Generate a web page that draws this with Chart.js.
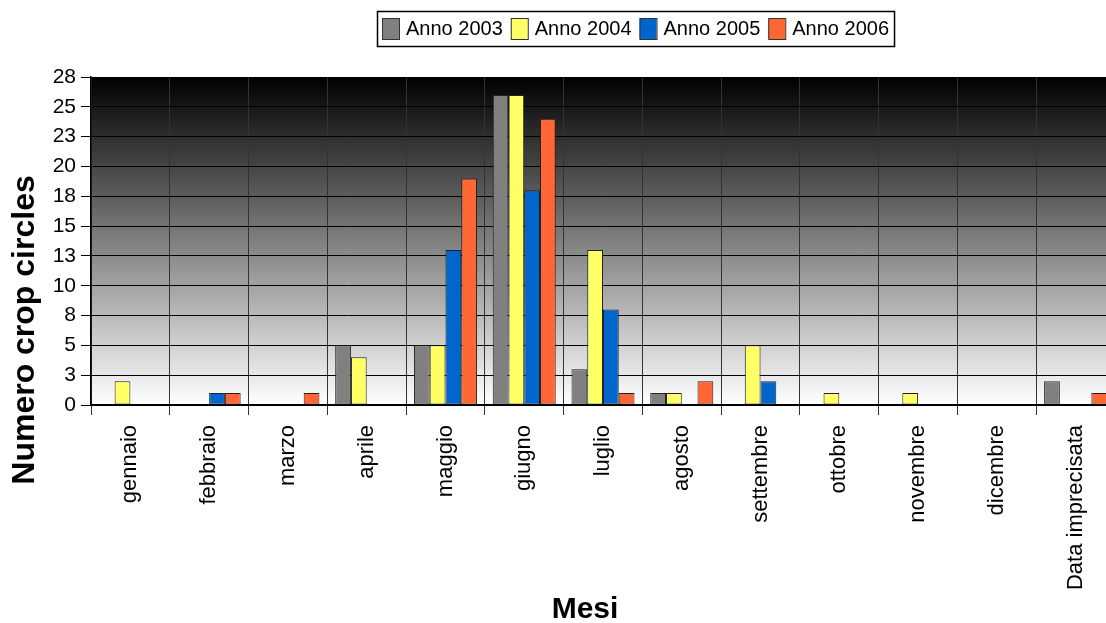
<!DOCTYPE html>
<html>
<head>
<meta charset="utf-8">
<title>Crop circles per mese</title>
<script src="https://cdn.jsdelivr.net/npm/chart.js@4/dist/chart.umd.min.js"></script>
<style>
  html, body { margin: 0; padding: 0; background: #fff; overflow: hidden; }
  #wrap { width: 1115px; height: 623px; }
</style>
</head>
<body>
<div id="wrap"><canvas id="barChart" width="1115" height="623"></canvas></div>
<script>
var mesi = ['gennaio', 'febbraio', 'marzo', 'aprile', 'maggio', 'giugno', 'luglio',
            'agosto', 'settembre', 'ottobre', 'novembre', 'dicembre', 'Data imprecisata'];
var anno2003 = [0, 0, 0, 5, 5, 26, 3, 1, 0, 0, 0, 0, 2];
var anno2004 = [2, 0, 0, 4, 5, 26, 13, 1, 5, 1, 1, 0, 0];
var anno2005 = [0, 1, 0, 0, 13, 18, 8, 0, 2, 0, 0, 0, 0];
var anno2006 = [0, 1, 1, 0, 19, 24, 1, 2, 0, 0, 0, 0, 1];
var serieNomi = ['Anno 2003', 'Anno 2004', 'Anno 2005', 'Anno 2006'];
var serieColori = ['#808080', '#FFFF66', '#0066CC', '#FF6633'];
var yTickLabels = ['0', '3', '5', '8', '10', '13', '15', '18', '20', '23', '25', '28'];

var FONT = "'Liberation Sans', Arial, sans-serif";

// sfondo sfumato dell'area del grafico, da nero (alto) a bianco (basso)
var sfondo = {
    id: 'sfondo',
    beforeDraw: function (chart) {
        var a = chart.chartArea;
        var ctx = chart.ctx;
        var g = ctx.createLinearGradient(0, a.top, 0, a.bottom);
        g.addColorStop(0, '#000000');
        g.addColorStop(1, '#ffffff');
        ctx.save();
        ctx.fillStyle = g;
        ctx.fillRect(a.left, a.top, a.right - a.left, a.bottom - a.top);
        ctx.restore();
    }
};

// legenda con cornice e titoli degli assi
var extra = {
    id: 'extra',
    afterDraw: function (chart) {
        var ctx = chart.ctx;
        ctx.save();

        // legenda
        ctx.font = '20px ' + FONT;
        var box = 17, gap = 7, sep = 8, pad = 5;
        var widths = serieNomi.map(function (n) { return ctx.measureText(n).width; });
        var total = pad * 2 - sep;
        widths.forEach(function (w) { total += box + gap + w + sep; });
        var cx = 636, top = 11, h = 35;
        var x = Math.round(cx - total / 2);
        ctx.strokeStyle = '#000';
        ctx.lineWidth = 1.5;
        ctx.strokeRect(x + 0.5, top + 0.5, total, h);
        var cur = x + pad;
        ctx.textBaseline = 'middle';
        ctx.textAlign = 'left';
        for (var i = 0; i < serieNomi.length; i++) {
            ctx.fillStyle = serieColori[i];
            ctx.fillRect(cur, top + 7, box, 21);
            ctx.lineWidth = 1;
            ctx.strokeStyle = '#333';
            ctx.strokeRect(cur + 0.5, top + 7.5, box, 21);
            ctx.fillStyle = '#000';
            ctx.fillText(serieNomi[i], cur + box + gap, top + h / 2 + 1);
            cur += box + gap + widths[i] + sep;
        }

        // titoli assi
        ctx.fillStyle = '#000';
        ctx.textAlign = 'center';
        ctx.font = 'bold 30px ' + FONT;
        ctx.fillText('Mesi', 585, 610);
        ctx.font = 'bold 32px ' + FONT;
        ctx.translate(25, 330);
        ctx.rotate(-Math.PI / 2);
        ctx.fillText('Numero crop circles', 0, 0);
        ctx.restore();
    }
};

var datasets = [anno2003, anno2004, anno2005, anno2006].map(function (d, i) {
    return {
        label: serieNomi[i],
        data: d,
        backgroundColor: serieColori[i],
        borderColor: '#222',
        borderWidth: 1,
        borderSkipped: false,
        categoryPercentage: 0.8,
        barPercentage: 1.0
    };
});

var ctx = document.getElementById('barChart').getContext('2d');
var chart = new Chart(ctx, {
    type: 'bar',
    data: { labels: mesi, datasets: datasets },
    plugins: [sfondo, extra],
    options: {
        responsive: false,
        animation: false,
        devicePixelRatio: 1,
        layout: { padding: { top: 77, left: 0, right: 0, bottom: 0 } },
        plugins: {
            legend: { display: false },
            tooltip: { enabled: false }
        },
        scales: {
            x: {
                grid: { color: '#333', lineWidth: 1, tickLength: 10, offset: true, tickColor: '#333' },
                border: { color: '#000', width: 1.5 },
                ticks: {
                    color: '#000',
                    font: { family: FONT, size: 22 },
                    minRotation: 90,
                    maxRotation: 90,
                    autoSkip: false,
                    padding: 10
                },
                afterFit: function (scale) { scale.height = 218; }
            },
            y: {
                min: 0,
                max: 27.5,
                grid: { color: '#000', lineWidth: 1, tickLength: 10, tickColor: '#000' },
                border: { color: '#000', width: 1.5 },
                ticks: {
                    stepSize: 2.5,
                    color: '#000',
                    font: { family: FONT, size: 21 },
                    padding: 5,
                    callback: function (v, idx) { return yTickLabels[idx]; }
                },
                afterFit: function (scale) { scale.width = 91; }
            }
        }
    }
});
</script>
</body>
</html>
